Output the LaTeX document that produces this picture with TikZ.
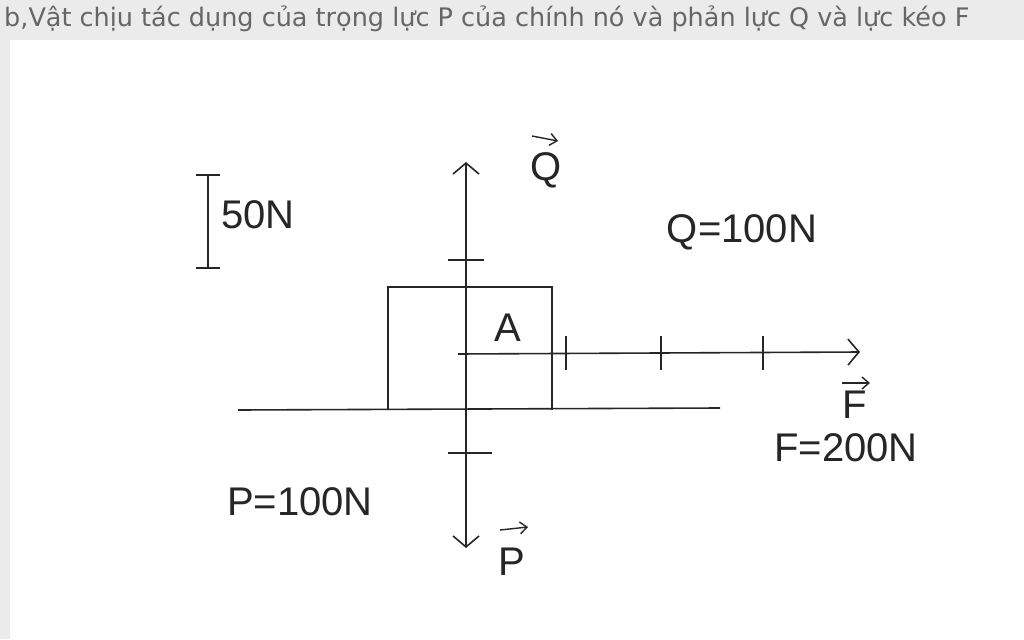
\documentclass[tikz,border=0pt]{standalone}
\usepackage{fontspec}
\setmainfont{Liberation Sans}
\newfontfamily\hdfont{DejaVu Sans}
\usetikzlibrary{arrows.meta}
\tikzset{
  ln/.style={line width=1.6pt, black!85},
  lbl/.style={font=\fontsize{40}{46}\selectfont, text=black!85, inner sep=0pt},
  vecarrow/.style={line width=1.4pt, black!85, -{Straight Barb[length=7pt,width=12pt]}},
  openhead/.style={line width=1.6pt, black!85, -{Straight Barb[length=11pt,width=26pt]}}
}
\begin{document}
\begin{tikzpicture}[x=1pt,y=-1pt]
\useasboundingbox (0,0) rectangle (1024,639);
\fill[black!8] (0,0) rectangle (1024,639);
\fill[white] (10,40) rectangle (1024,639);
\node[anchor=west, inner sep=0pt, font=\hdfont\fontsize{25.5}{28}\selectfont, text=black!60] (hd) at (4,19) {b,Vật chịu tác dụng của trọng lực P của chính nó và phản lực Q và lực kéo F};
% scale bar
\coordinate (s1) at (208,175); \coordinate (s2) at (208,268);
\draw[ln] (s1) -- (s2);
\draw[ln] (196,175) -- (220,175);
\draw[ln] (196,268) -- (220,268);
\node[lbl, anchor=west] (s) at (221,215) {50N};
% ground and box
\coordinate (g1) at (238,410); \coordinate (g2) at (720,408);
\draw[ln] (g1) -- (g2);
\draw[ln] (388,410) -- (388,287) -- (552,287) -- (552,410);
% vertical axis
\coordinate (o) at (466,354);
\coordinate (qt) at (466,162); \coordinate (pb) at (466,548);
\draw[openhead] (o) -- (qt);
\draw[openhead] (o) -- (pb);
\draw[ln] (448,260) -- (484,260);
\draw[ln] (448,453) -- (492,453);
% horizontal
\coordinate (o2) at (458,354); \coordinate (fe) at (860,352);
\draw[openhead] (o2) -- (fe);
\foreach \x in {566,661,763} \draw[ln] (\x,336) -- (\x,370);
\node[lbl] (A) at (508,328) {A};
% vector labels
\node[lbl] (Q) at (546,170) {Q};
\draw[vecarrow] (532,136) -- (558,141);
\node[lbl] (F) at (855,405) {F};
\draw[vecarrow] (842,383) -- (870,383);
\node[lbl] (P) at (512,562) {P};
\draw[vecarrow] (500,530) -- (528,527);
% values
\node[lbl] (qv) at (742,232) {Q=100N};
\node[lbl] (fv) at (846,448) {F=200N};
\node[lbl] (pv) at (300,502) {P=100N};
\end{tikzpicture}
\end{document}
